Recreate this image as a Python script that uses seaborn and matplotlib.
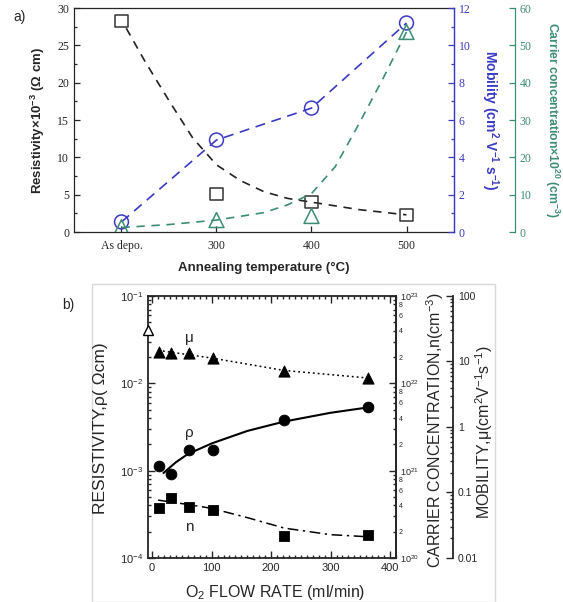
import matplotlib
matplotlib.use("Agg")
import matplotlib.pyplot as plt
import matplotlib.ticker as mticker
from matplotlib.patches import Rectangle
import numpy as np
import pandas as pd
import seaborn as sns

# ---- panel a: annealing series ----
anneal_labels = ["As depo.", "300", "400", "500"]
anneal_temp = [200, 300, 400, 500]  # "As depo." sits in the 200 slot
resistivity_a = [28.3, 5.1, 4.0, 2.3]
mobility_a = [0.54, 4.93, 6.64, 11.2]
carrier_a = [1.3, 3.2, 4.3, 53.6]

# guide curves as drawn in the source figure
rho_trend_t = [205, 225, 250, 275, 300, 325, 350, 375, 400, 450, 500]
rho_trend = [27.3, 22.8, 17.6, 12.6, 9.0, 6.9, 5.4, 4.5, 4.0, 3.0, 2.3]
car_trend_t = [200, 250, 300, 350, 375, 400, 425, 450, 475, 500]
car_trend = [1.2, 2.0, 3.2, 5.2, 7.3, 10.3, 17.5, 29.0, 41.0, 53.6]

# ---- panel b: O2 flow series ----
flow = [12, 32, 62, 102, 222, 363]
rho_b = [1.14e-3, 9.1e-4, 1.72e-3, 1.72e-3, 3.8e-3, 5.36e-3]
mu_b = [13.8, 13.7, 13.3, 11.3, 7.2, 5.6]
n_b = [3.73e20, 4.9e20, 3.85e20, 3.55e20, 1.78e20, 1.83e20]

rho_fit_x = [19, 40, 60, 100, 160, 222, 300, 363]
rho_fit = [9.4e-4, 1.25e-3, 1.55e-3, 2.05e-3, 2.85e-3, 3.65e-3, 4.6e-3, 5.3e-3]
mu_fit_x = [10, 100, 222, 363]
mu_fit = [14.8, 11.3, 7.3, 5.6]
n_fit_x = [10, 60, 100, 160, 222, 300, 363]
n_fit = [4.6e20, 4.1e20, 3.7e20, 2.9e20, 2.2e20, 1.85e20, 1.75e20]

sns.set_style("ticks")
plt.rcParams["font.family"] = ["Liberation Sans", "DejaVu Sans"]
plt.rcParams["font.serif"] = ["Liberation Serif", "DejaVu Serif"]
plt.rcParams["mathtext.fontset"] = "custom"
plt.rcParams["mathtext.rm"] = "Liberation Sans"
plt.rcParams["mathtext.bf"] = "Liberation Sans:bold"
plt.rcParams["mathtext.it"] = "Liberation Sans:italic"

BLUE = "#3a3ac4"
TEAL = "#3d8c76"
GREY = "#333333"

fig = plt.figure(figsize=(5.63, 6.02), dpi=100)

# ================= panel a =================
df_a = pd.DataFrame({"T": anneal_temp, "rho": resistivity_a,
                     "mu": mobility_a, "n": carrier_a})

ax = fig.add_axes([0.1314, 0.6146, 0.675, 0.372])
ax_mob = ax.twinx()
ax_car = ax.twinx()
ax_car.spines["right"].set_position(("axes", 1.16))

sns.lineplot(x=rho_trend_t, y=rho_trend, ax=ax, color="#222222", lw=1.2,
             linestyle=(0, (5, 4)))
sns.scatterplot(data=df_a, x="T", y="rho", ax=ax, marker="s", s=80,
                facecolor="none", edgecolor=GREY, linewidth=1.1, zorder=5)

sns.lineplot(data=df_a, x="T", y="mu", ax=ax_mob, color=BLUE, lw=1.2,
             linestyle=(0, (6, 4)))
sns.scatterplot(data=df_a, x="T", y="mu", ax=ax_mob, marker="o", s=100,
                facecolor="none", edgecolor=BLUE, linewidth=1.1, zorder=5)

sns.lineplot(x=car_trend_t, y=car_trend, ax=ax_car, color=TEAL, lw=1.2,
             linestyle=(0, (5, 4)))
sns.scatterplot(data=df_a, x="T", y="n", ax=ax_car, marker="^", s=115,
                facecolor="none", edgecolor=TEAL, linewidth=1.1, zorder=5)

ax.set_xlim(150, 550)
ax.set_xticks(anneal_temp, anneal_labels)
ax.set_ylim(0, 30)
ax.yaxis.set_major_locator(mticker.MultipleLocator(5))
ax.yaxis.set_minor_locator(mticker.MultipleLocator(2.5))
ax_mob.set_ylim(0, 12)
ax_mob.yaxis.set_major_locator(mticker.MultipleLocator(2))
ax_mob.yaxis.set_minor_locator(mticker.MultipleLocator(1))
ax_car.set_ylim(0, 60)
ax_car.yaxis.set_major_locator(mticker.MultipleLocator(10))

for a in (ax, ax_mob, ax_car):
    a.set_xlabel("")
    a.tick_params(which="both", direction="in", labelsize=8.5,
                  labelfontfamily="serif", width=0.9)
    a.tick_params(which="major", length=4)
    a.tick_params(which="minor", length=2)
    for s in a.spines.values():
        s.set_linewidth(0.9)
ax.tick_params(axis="x", pad=6)
for side in ("left", "top", "bottom"):
    ax_mob.spines[side].set_visible(False)
    ax_car.spines[side].set_visible(False)
ax.spines["right"].set_color(BLUE)
ax_mob.spines["right"].set_color(BLUE)
ax_car.spines["right"].set_color(TEAL)
ax_mob.tick_params(axis="y", which="both", colors=BLUE)
ax_car.tick_params(axis="y", which="both", colors=TEAL)

ax.set_ylabel("Resistivity×10$^{\\mathbf{-3}}$ (Ω cm)", fontsize=9.5,
              fontweight="bold")
ax.yaxis.set_label_coords(-0.072, 0.5)
ax_mob.set_ylabel("Mobility (cm$^{\\mathbf{2}}$ V$^{\\mathbf{-1}}$ s$^{\\mathbf{-1}}$)",
                  fontsize=10, fontweight="bold", color=BLUE, rotation=270,
                  va="center")
ax_mob.yaxis.set_label_coords(1.095, 0.5)
ax_car.set_ylabel("Carrier concentration×10$^{\\mathbf{20}}$ (cm$^{\\mathbf{-3}}$)",
                  fontsize=8.8, fontweight="bold", color=TEAL, rotation=270,
                  va="center")
ax_car.yaxis.set_label_coords(1.258, 0.5)

fig.text(0.469, 1 - 268 / 602, "Annealing temperature (°C)", ha="center",
         va="center", fontsize=9.5, fontweight="bold")
fig.text(0.023, 1 - 17 / 602, "a)", ha="left", va="center", fontsize=10)

# ================= panel b =================
fig.patches.append(Rectangle((92 / 563, 0), (495 - 92) / 563, (602 - 284) / 602,
                             transform=fig.transFigure, fill=False,
                             edgecolor="#d9d9d9", lw=1.0))
fig.text(62 / 563, 1 - 305 / 602, "b)", ha="left", va="center", fontsize=10)

df_b = pd.DataFrame({"flow": flow, "rho": rho_b, "mu": mu_b, "n": n_b})

bx = fig.add_axes([148 / 563, 1 - 558 / 602, (396 - 148) / 563, (558 - 296) / 602])
bx_n = bx.twinx()
bx_mu = bx.twinx()
bx_mu.spines["right"].set_position(("axes", 1.23))

bx.set_yscale("log")
bx_n.set_yscale("log")
bx_mu.set_yscale("log")

sns.lineplot(x=rho_fit_x, y=rho_fit, ax=bx, color="black", lw=1.5)
sns.scatterplot(data=df_b, x="flow", y="rho", ax=bx, marker="o", s=60,
                color="black", edgecolor="black", zorder=5)

sns.lineplot(x=n_fit_x, y=n_fit, ax=bx_n, color="black", lw=1.1,
             linestyle=(0, (7, 3, 1.5, 3)))
sns.scatterplot(data=df_b, x="flow", y="n", ax=bx_n, marker="s", s=55,
                color="black", edgecolor="black", zorder=5)

sns.lineplot(x=mu_fit_x, y=mu_fit, ax=bx_mu, color="black", lw=1.1,
             linestyle=(0, (1.2, 2)))
sns.scatterplot(data=df_b, x="flow", y="mu", ax=bx_mu, marker="^", s=65,
                color="black", edgecolor="black", zorder=5)

bx.set_xlim(-7, 410)
bx.set_ylim(1e-4, 1e-1)
bx_n.set_ylim(1e20, 1e23)
bx_mu.set_ylim(0.01, 100)
bx.xaxis.set_major_locator(mticker.MultipleLocator(100))
bx.xaxis.set_minor_locator(mticker.MultipleLocator(10))

for a in (bx, bx_n, bx_mu):
    a.yaxis.set_minor_locator(mticker.LogLocator(base=10, subs=np.arange(2, 10)))
    a.set_xlabel("")
    a.set_ylabel("")
    a.tick_params(which="both", direction="in", width=1.0, labelsize=8)
    a.tick_params(which="major", length=5)
    a.tick_params(which="minor", length=2.5)
    for s in a.spines.values():
        s.set_linewidth(1.3)
bx.tick_params(axis="x", which="both", top=True)
for side in ("left", "top", "bottom"):
    bx_n.spines[side].set_visible(False)
    bx_mu.spines[side].set_visible(False)


def mantissa_label(v, pos):
    m = int(round(v / 10 ** np.floor(np.log10(v) + 1e-9)))
    return str(m) if m in (2, 4, 6, 8) else ""


bx_n.yaxis.set_minor_formatter(mticker.FuncFormatter(mantissa_label))
bx_n.tick_params(axis="y", which="major", labelsize=6.5, pad=3)
bx_n.tick_params(axis="y", which="minor", labelsize=5, pad=2,
                 labelright=True, labelleft=False)
bx_mu.yaxis.set_major_formatter(mticker.FuncFormatter(lambda v, p: f"{v:g}"))
bx_mu.yaxis.set_minor_formatter(mticker.NullFormatter())
bx_mu.tick_params(axis="y", labelsize=7.5)

# arrow mark on the left axis
bx.plot([0], [0.041], marker="^", ms=7, mfc="white", mec="black", mew=1.0,
        transform=bx.get_yaxis_transform(), clip_on=False, zorder=6)

bx.text(62, 0.033, "μ", fontsize=11, ha="center", va="center")
bx.text(62, 2.7e-3, "ρ", fontsize=11, ha="center", va="center")
bx.text(62, 2.26e-4, "n", fontsize=11, ha="center", va="center")

fig.text(100 / 563, 1 - 428 / 602, "RESISTIVITY,ρ( Ωcm)", rotation=90,
         ha="center", va="center", fontsize=12.5)
fig.text(435 / 563, 1 - 430 / 602, "CARRIER CONCENTRATION,n(cm$^{-3}$)",
         rotation=90, ha="center", va="center", fontsize=11.5)
fig.text(484 / 563, 1 - 432 / 602, "MOBILITY,μ(cm$^2$V$^{-1}$s$^{-1}$)",
         rotation=90, ha="center", va="center", fontsize=11.5)
fig.text(275 / 563, 1 - 592 / 602, "O$_2$ FLOW RATE (ml/min)", ha="center",
         va="center", fontsize=11.5)

fig.savefig("out.png", dpi=100)
